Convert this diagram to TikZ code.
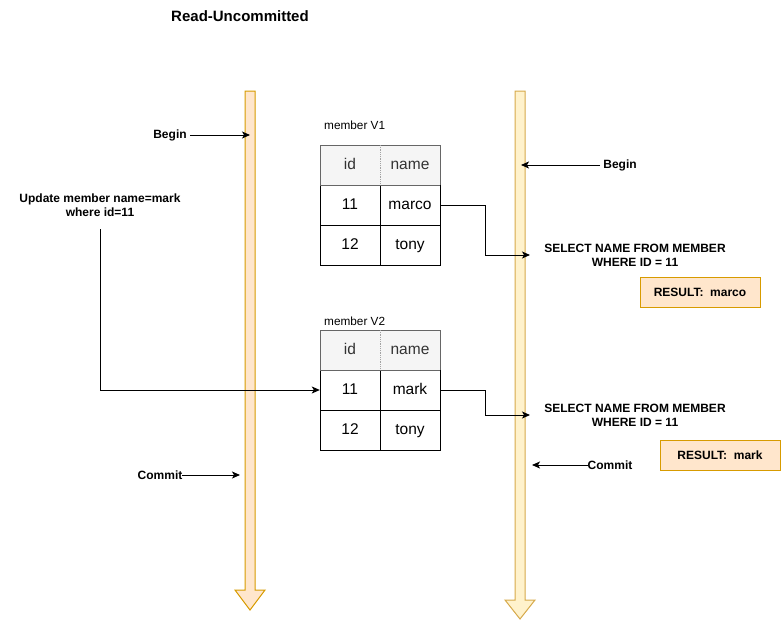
\documentclass[tikz,border=0pt]{standalone}
\usepackage{fontspec}
\setmainfont{Liberation Sans}
\usetikzlibrary{arrows.meta}
\definecolor{peachfill}{HTML}{FFE6CC}
\definecolor{peachline}{HTML}{D79B00}
\definecolor{yelfill}{HTML}{FFF2CC}
\definecolor{yelline}{HTML}{D6A94A}
\definecolor{hdrfill}{HTML}{F5F5F5}
\definecolor{hdrline}{HTML}{666666}
\definecolor{hdrtext}{HTML}{333333}
\tikzset{
  lbl/.style={font=\fontsize{12}{14}\selectfont\bfseries, inner sep=0pt, align=center},
  ttl/.style={font=\fontsize{15}{17}\selectfont\bfseries, inner sep=0pt},
  tcaption/.style={font=\fontsize{11.8}{14}\selectfont, inner sep=0pt, anchor=west},
  cell/.style={minimum width=60pt, minimum height=40pt, inner sep=0pt, text height=11.5pt, text depth=2.5pt, font=\fontsize{15.5}{18}\selectfont},
  hcell/.style={cell, fill=hdrfill, text=hdrtext},
  conn/.style={line width=1pt, -{Stealth[length=8pt,width=7pt,inset=2pt]}},
  resbox/.style={draw=peachline, fill=peachfill, line width=1pt, minimum width=120pt, minimum height=30pt, inner sep=0pt, font=\fontsize{12}{14}\selectfont\bfseries},
}
\begin{document}
\begin{tikzpicture}[x=1pt,y=-1pt]
\useasboundingbox (0,0) rectangle (781,621);
% timelines
\draw[peachline, fill=peachfill, line width=1pt, line join=miter]
  (245,91) -- (255,91) -- (255,590) -- (265,590) -- (250,610) -- (235,590) -- (245,590) -- cycle;
\draw[yelline, fill=yelfill, line width=1pt, line join=miter]
  (515,91) -- (525,91) -- (525,600) -- (535,600) -- (520,619) -- (505,600) -- (515,600) -- cycle;
\coordinate (lbegin) at (250,135);
\coordinate (lcommit) at (240,475);
\coordinate (rbegin) at (521,165);
\coordinate (rsel1) at (530,255);
\coordinate (rsel2) at (530,415);
\coordinate (rcommit) at (532,465);

\node[ttl] (title) at (240,16) {Read-Uncommitted};

% left side
\node[lbl] (begin1) at (170,135) {Begin};
\draw[conn] (190,135) -- (lbegin);
\node[lbl] (upd) at (100,205) {Update member name=mark\\where id=11};
\node[lbl] (commit1) at (160,475) {Commit};
\draw[conn] (182,475) -- (lcommit);

% table V1
\node[tcaption] (capv1) at (324,125) {member V1};
\node[hcell] (h1a) at (350,165) {id};
\node[hcell] (h1b) at (410,165) {name};
\node[cell] (r1a) at (350,205) {11};
\node[cell] (r1b) at (410,205) {marco};
\node[cell] (s1a) at (350,245) {12};
\node[cell] (s1b) at (410,245) {tony};
\draw[hdrline, line width=1pt] (320,185) -- (320,145) -- (440,145) -- (440,185);
\draw[hdrline!60, line width=0.8pt, densely dotted] (380,145) -- (380,185);
\draw[black, line width=1pt] (320,185) rectangle (440,265);
\draw[black, line width=1pt] (320,225) -- (440,225) (380,185) -- (380,265);
\draw[hdrline, line width=1pt] (320,185) -- (440,185);

% table V2
\node[tcaption] (capv2) at (324,321) {member V2};
\node[hcell] (h2a) at (350,350) {id};
\node[hcell] (h2b) at (410,350) {name};
\node[cell] (r2a) at (350,390) {11};
\node[cell] (r2b) at (410,390) {mark};
\node[cell] (s2a) at (350,430) {12};
\node[cell] (s2b) at (410,430) {tony};
\draw[hdrline, line width=1pt] (320,370) -- (320,330) -- (440,330) -- (440,370);
\draw[hdrline!60, line width=0.8pt, densely dotted] (380,330) -- (380,370);
\draw[black, line width=1pt] (320,370) rectangle (440,450);
\draw[black, line width=1pt] (320,410) -- (440,410) (380,370) -- (380,450);
\draw[hdrline, line width=1pt] (320,370) -- (440,370);

% update connector
\draw[conn] (100,229) -- (100,390) -- (r2a.west);

% select connectors
\draw[conn] (r1b.east) -- (485,205) -- (485,255) -- (rsel1);
\draw[conn] (r2b.east) -- (485,390) -- (485,415) -- (rsel2);

% right side
\node[lbl] (begin2) at (620,165) {Begin};
\draw[conn] (600,165) -- (rbegin);
\node[lbl] (sel1) at (635,255) {SELECT NAME FROM MEMBER\\WHERE ID = 11};
\node[resbox] (res1) at (700,292) {RESULT:\ \ marco};
\node[lbl] (sel2) at (635,415) {SELECT NAME FROM MEMBER\\WHERE ID = 11};
\node[resbox] (res2) at (720,455) {RESULT:\ \ mark};
\node[lbl] (commit2) at (610,465) {Commit};
\draw[conn] (588,465) -- (rcommit);
\end{tikzpicture}
\end{document}
